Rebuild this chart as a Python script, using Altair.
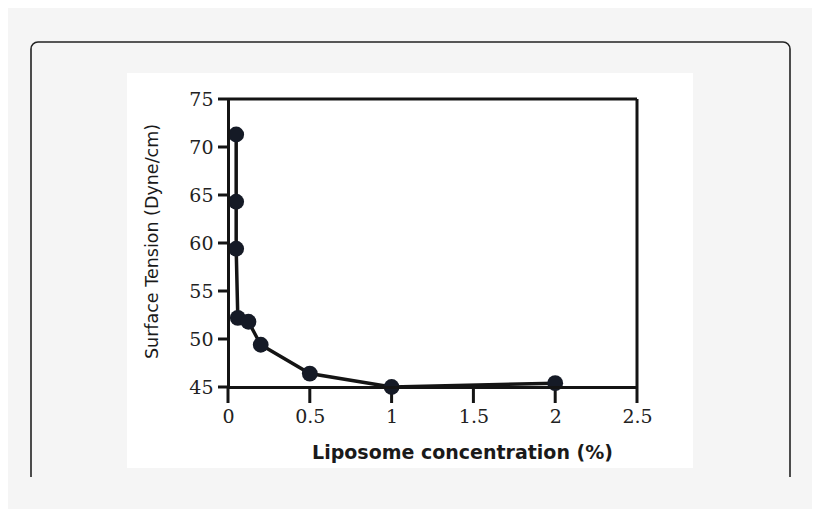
import altair as alt
import pandas as pd

# Data
conc = [0.05, 0.05, 0.05, 0.06, 0.125, 0.2, 0.5, 1.0, 2.0]
tension = [71.3, 64.3, 59.4, 52.2, 51.8, 49.4, 46.4, 45.0, 45.4]
order = list(range(len(conc)))

x_ticks = [0, 0.5, 1, 1.5, 2, 2.5]
y_ticks = [45, 50, 55, 60, 65, 70, 75]
X_MIN, X_MAX = 0, 2.5
Y_MIN, Y_MAX = 45, 75

df = pd.DataFrame({"conc": conc, "tension": tension, "order": order})

BG = "#f5f5f5"
INK = "#141414"
W, H = 409, 288
XTICK, YTICK = 16, 10

xs = alt.Scale(domain=[X_MIN, X_MAX], nice=False, zero=False)
ys = alt.Scale(domain=[Y_MIN, Y_MAX], nice=False, zero=False)

x_axis = alt.Axis(
    values=x_ticks, format="~g", title="Liposome concentration (%)",
    ticks=False, domainColor=INK, domainWidth=3,
    labelFont="DejaVu Serif", labelFontSize=19, labelColor="#222222", labelPadding=XTICK + 4,
    titleFont="DejaVu Sans", titleFontSize=19, titleFontWeight="bold", titleColor="#1a1a1a",
    titleX=234, titleY=65, titleBaseline="middle", titleAlign="center",
    grid=False, zindex=1, labelFlush=False, labelOverlap=False,
)
y_axis = alt.Axis(
    values=y_ticks, format="d", title="Surface Tension (Dyne/cm)",
    ticks=False, domainColor=INK, domainWidth=3,
    labelFont="DejaVu Serif", labelFontSize=19, labelColor="#222222", labelPadding=YTICK + 5,
    titleFont="DejaVu Sans", titleFontSize=17.5, titleFontWeight="normal", titleColor="#1a1a1a",
    titleX=-76, titleY=142, titleAngle=270, titleBaseline="middle", titleAlign="center",
    grid=False, zindex=1, labelFlush=False, labelOverlap=False,
)

one = pd.DataFrame({"a": [0]})
# decorative card (border) and white image panel
card = alt.Chart(one).mark_rect(
    fill=BG, stroke="#222222", strokeWidth=1.6, cornerRadius=7
).encode(x=alt.value(-197), x2=alt.value(562), y=alt.value(-57), y2=alt.value(400))
cover = alt.Chart(one).mark_rect(fill=BG, strokeWidth=0).encode(
    x=alt.value(-205), x2=alt.value(570), y=alt.value(378), y2=alt.value(420))
panel = alt.Chart(one).mark_rect(fill="white", strokeWidth=0).encode(
    x=alt.value(-101), x2=alt.value(465), y=alt.value(-26), y2=alt.value(369))

# frame: top and right sides
frame_df = pd.DataFrame({"x": [X_MIN], "x2": [X_MAX], "y": [Y_MAX]})
top_rule = alt.Chart(frame_df).mark_rule(color=INK, strokeWidth=3).encode(
    x=alt.X("x:Q", scale=xs, axis=x_axis), x2="x2:Q", y=alt.Y("y:Q", scale=ys, axis=y_axis)
)
right_df = pd.DataFrame({"x": [X_MAX], "y": [Y_MIN], "y2": [Y_MAX]})
right_rule = alt.Chart(right_df).mark_rule(color=INK, strokeWidth=3).encode(
    x=alt.X("x:Q", scale=xs, axis=x_axis), y=alt.Y("y:Q", scale=ys, axis=y_axis), y2="y2:Q"
)

# outward tick marks, drawn as filled tick (rect) marks
xt = alt.Chart(pd.DataFrame({"t": x_ticks})).mark_tick(
    orient="vertical", size=XTICK, thickness=3, color=INK, opacity=1, filled=True
).encode(
    x=alt.X("t:Q", scale=xs, axis=x_axis), y=alt.value(H + XTICK / 2)
)
yt = alt.Chart(pd.DataFrame({"t": y_ticks})).mark_tick(
    orient="horizontal", size=YTICK, thickness=3, color=INK, opacity=1, filled=True
).encode(
    y=alt.Y("t:Q", scale=ys, axis=y_axis), x=alt.value(-YTICK / 2)
)

line = alt.Chart(df).mark_line(color=INK, strokeWidth=3.5).encode(
    x=alt.X("conc:Q", scale=xs, axis=x_axis),
    y=alt.Y("tension:Q", scale=ys, axis=y_axis),
    order="order:Q",
)
pts = alt.Chart(df).mark_point(
    filled=True, shape="circle", size=250, color="#151a26", opacity=1
).encode(
    x=alt.X("conc:Q", scale=xs, axis=x_axis),
    y=alt.Y("tension:Q", scale=ys, axis=y_axis),
)

chart = alt.layer(card, cover, panel, top_rule, right_rule, xt, yt, line, pts).properties(
    width=W, height=H,
    padding={"left": 220, "top": 91, "right": 175, "bottom": 122},
    autosize=alt.AutoSizeParams(type="none"),
    background=BG,
).configure_view(stroke=None)

chart.save("out.html", embed_options={"renderer": "svg", "actions": False})
